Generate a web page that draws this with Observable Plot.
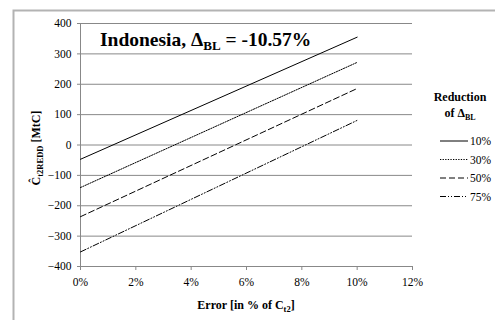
<!DOCTYPE html>
<html><head><meta charset="utf-8">
<script src="https://cdn.jsdelivr.net/npm/d3@7"></script>
<script src="https://cdn.jsdelivr.net/npm/@observablehq/plot@0.6"></script>
<style>body{margin:0;background:#fff}</style>
</head><body><div id="chart"></div>
<script>
const errors = [0, 0.10];
const series = ["10%", "30%", "50%", "75%"];
const v10 = [-47, 355];
const v30 = [-140, 272];
const v50 = [-236, 186];
const v75 = [-352, 81];
const yTicks = [-400, -300, -200, -100, 0, 100, 200, 300, 400];
const xTicks = [0, 0.02, 0.04, 0.06, 0.08, 0.10, 0.12];
const dashes = {"10%": null, "30%": "1.3,1.3", "50%": "6,3", "75%": "6,2,1,2,1,2"};

const vals = [v10, v30, v50, v75];
const data = series.flatMap((s, i) => errors.map((e, j) => ({s, e, v: vals[i][j]})));

const font = "Liberation Serif";
const chart = Plot.plot({
  width: 495, height: 320,
  marginLeft: 80, marginRight: 83, marginTop: 23, marginBottom: 54,
  style: {fontSize: "11.5px", color: "#000", background: "transparent"},
  x: {domain: [0, 0.12], label: null},
  y: {domain: [-400, 400], label: null},
  marks: [
    Plot.gridY(yTicks, {stroke: "#888", strokeOpacity: 1, strokeWidth: 1}),
    Plot.ruleY([-400], {stroke: "#888"}),
    Plot.ruleX([0], {stroke: "#888"}),
    Plot.axisX({ticks: xTicks, tickFormat: d => Math.round(d*100) + "%", stroke: "#888", tickSize: 4, tickPadding: 7, label: null}),
    Plot.axisY({ticks: yTicks, stroke: "#888", tickSize: 3, tickPadding: 6, label: null}),
    ...series.map(s => Plot.line(data.filter(d => d.s === s), {x: "e", y: "v", stroke: "#000", strokeWidth: 1, strokeDasharray: dashes[s]}))
  ]
});
document.getElementById("chart").appendChild(chart);

const svg = d3.select(chart);
// outer border
svg.insert("rect", ":first-child").attr("x", 13.5).attr("y", 10.5).attr("width", 500).attr("height", 330)
  .attr("fill", "none").attr("stroke", "#b3b3b3").attr("stroke-width", 2);

// title
const t = svg.append("text").attr("x", 100).attr("y", 46).attr("text-anchor", "start")
  .attr("font-weight", "bold").attr("font-size", 19.5);
t.append("tspan").text("Indonesia, Δ");
t.append("tspan").attr("dy", 4).attr("font-size", 13).text("BL");
t.append("tspan").attr("dy", -4).text(" = -10.57%");

// y label
const yl = svg.append("text").attr("transform", "translate(40,148) rotate(-90)").attr("text-anchor", "middle")
  .attr("font-weight", "bold").attr("font-size", 12);
yl.append("tspan").text("Ĉ");
yl.append("tspan").attr("dy", 2.5).attr("font-size", 8.5).text("t2REDD");
yl.append("tspan").attr("dy", -2.5).text(" [MtC]");

// x label
const xl = svg.append("text").attr("x", 246).attr("y", 309).attr("text-anchor", "middle")
  .attr("font-weight", "bold").attr("font-size", 12);
xl.append("tspan").text("Error [in % of C");
xl.append("tspan").attr("dy", 2.5).attr("font-size", 8.5).text("t2");
xl.append("tspan").attr("dy", -2.5).text("]");

// legend
const lg = svg.append("g");
lg.append("text").attr("x", 460).attr("y", 101).attr("text-anchor", "middle").attr("font-weight", "bold").attr("font-size", 12).text("Reduction");
const o = lg.append("text").attr("x", 460).attr("y", 117).attr("text-anchor", "middle").attr("font-weight", "bold").attr("font-size", 12);
o.append("tspan").text("of Δ");
o.append("tspan").attr("dy", 2.5).attr("font-size", 8).text("BL");
series.forEach((s, i) => {
  const y = 141 + i * 18.5;
  lg.append("line").attr("x1", 440).attr("x2", 468).attr("y1", y).attr("y2", y).attr("stroke", "#000")
    .attr("stroke-width", 1).attr("stroke-dasharray", dashes[s]);
  lg.append("text").attr("x", 470).attr("y", y + 4).attr("text-anchor", "start").attr("font-size", 11.5).text(s);
});

svg.selectAll("text").style("font-family", font).attr("fill", "#000").style("font-variant", "normal");
</script>
</body></html>
